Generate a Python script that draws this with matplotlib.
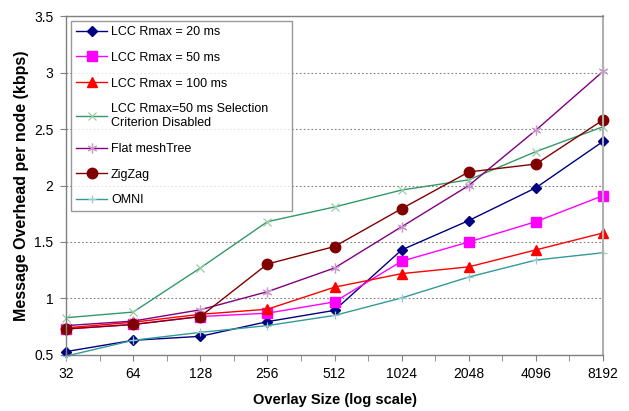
import matplotlib
matplotlib.use('Agg')
import matplotlib.pyplot as plt
import numpy as np

plt.rcParams['font.family'] = ['Liberation Sans', 'DejaVu Sans']

# overlay sizes (nodes)
sizes = [32, 64, 128, 256, 512, 1024, 2048, 4096, 8192]

lcc_20 = [0.53, 0.63, 0.665, 0.795, 0.895, 1.43, 1.69, 1.98, 2.39]
lcc_50 = [0.73, 0.77, 0.84, 0.87, 0.97, 1.33, 1.50, 1.68, 1.91]
lcc_100 = [0.74, 0.79, 0.86, 0.905, 1.10, 1.22, 1.28, 1.43, 1.58]
lcc_50_nosel = [0.83, 0.88, 1.27, 1.68, 1.81, 1.96, 2.05, 2.30, 2.52]
flat_meshtree = [0.76, 0.80, 0.90, 1.06, 1.27, 1.635, 2.00, 2.49, 3.01]
zigzag = [0.73, 0.77, 0.84, 1.305, 1.46, 1.795, 2.12, 2.19, 2.58]
omni = [0.49, 0.63, 0.70, 0.76, 0.85, 1.005, 1.19, 1.34, 1.405]

series = [
    ('LCC Rmax = 20 ms', lcc_20, dict(color='#000080', marker='D', ms=5.5)),
    ('LCC Rmax = 50 ms', lcc_50, dict(color='#FF00FF', marker='s', ms=6.5)),
    ('LCC Rmax = 100 ms', lcc_100, dict(color='#FF0000', marker='^', ms=7.5)),
    ('LCC Rmax=50 ms Selection\nCriterion Disabled', lcc_50_nosel,
     dict(color='#339966', marker='x', ms=6, mec='#99CCAA', mew=0.9)),
    ('Flat meshTree', flat_meshtree,
     dict(color='#800080', marker=(6, 2, 0), ms=7, mec='#CC99CC', mew=0.9)),
    ('ZigZag', zigzag, dict(color='#800000', marker='o', ms=7.5)),
    ('OMNI', omni, dict(color='#339999', marker='+', ms=6, mec='#99CCCC', mew=0.9)),
]

fig = plt.figure(figsize=(6.29, 4.11), dpi=100, facecolor='white')
ax = fig.add_axes([0.105, 0.1363, 0.8537, 0.8247])

for label, vals, style in series:
    ax.plot(sizes, vals, label=label, lw=1.0, clip_on=False, **style)

ax.set_xscale('log', base=2)
ax.set_xlim(32, 8192)
ax.set_xticks(sizes)
ax.set_xticklabels([str(s) for s in sizes])
ax.set_xticks([s * np.sqrt(2) for s in sizes[:-1]], minor=True)
ax.xaxis.set_minor_formatter(matplotlib.ticker.NullFormatter())

ax.set_ylim(0.5, 3.5)
ax.set_yticks(np.arange(0.5, 3.51, 0.5))
ax.set_yticklabels(['0.5', '1', '1.5', '2', '2.5', '3', '3.5'])
ax.grid(axis='y', linestyle=(0, (1.5, 2)), color='#808080', lw=0.8)

for sp in ax.spines.values():
    sp.set_color('#808080')
    sp.set_linewidth(1.0)
ax.spines['right'].set_color('#B0B0B0')
ax.spines['right'].set_linewidth(1.5)

ax.tick_params(axis='both', which='both', direction='out', color='#808080',
               labelsize=10, pad=5, length=4)
ax.tick_params(axis='x', which='minor', length=4)

ax.set_xlabel('Overlay Size (log scale)', fontsize=10.5, fontweight='bold', labelpad=8)
ax.set_ylabel('Message Overhead per node (kbps)', fontsize=11.5, fontweight='bold', labelpad=4)

# legend box stretched to the full frame width
leg = ax.legend(loc='upper left', bbox_to_anchor=(0.0093, 0.0, 0.412, 0.985),
                mode='expand', fontsize=9,
                frameon=True, fancybox=False, edgecolor='#808080',
                labelspacing=1.1, handlelength=2.5, handletextpad=0.3,
                borderpad=0.4, borderaxespad=0)
leg.get_frame().set_linewidth(1.0)

fig.savefig('out.png', dpi=100, facecolor='white')
